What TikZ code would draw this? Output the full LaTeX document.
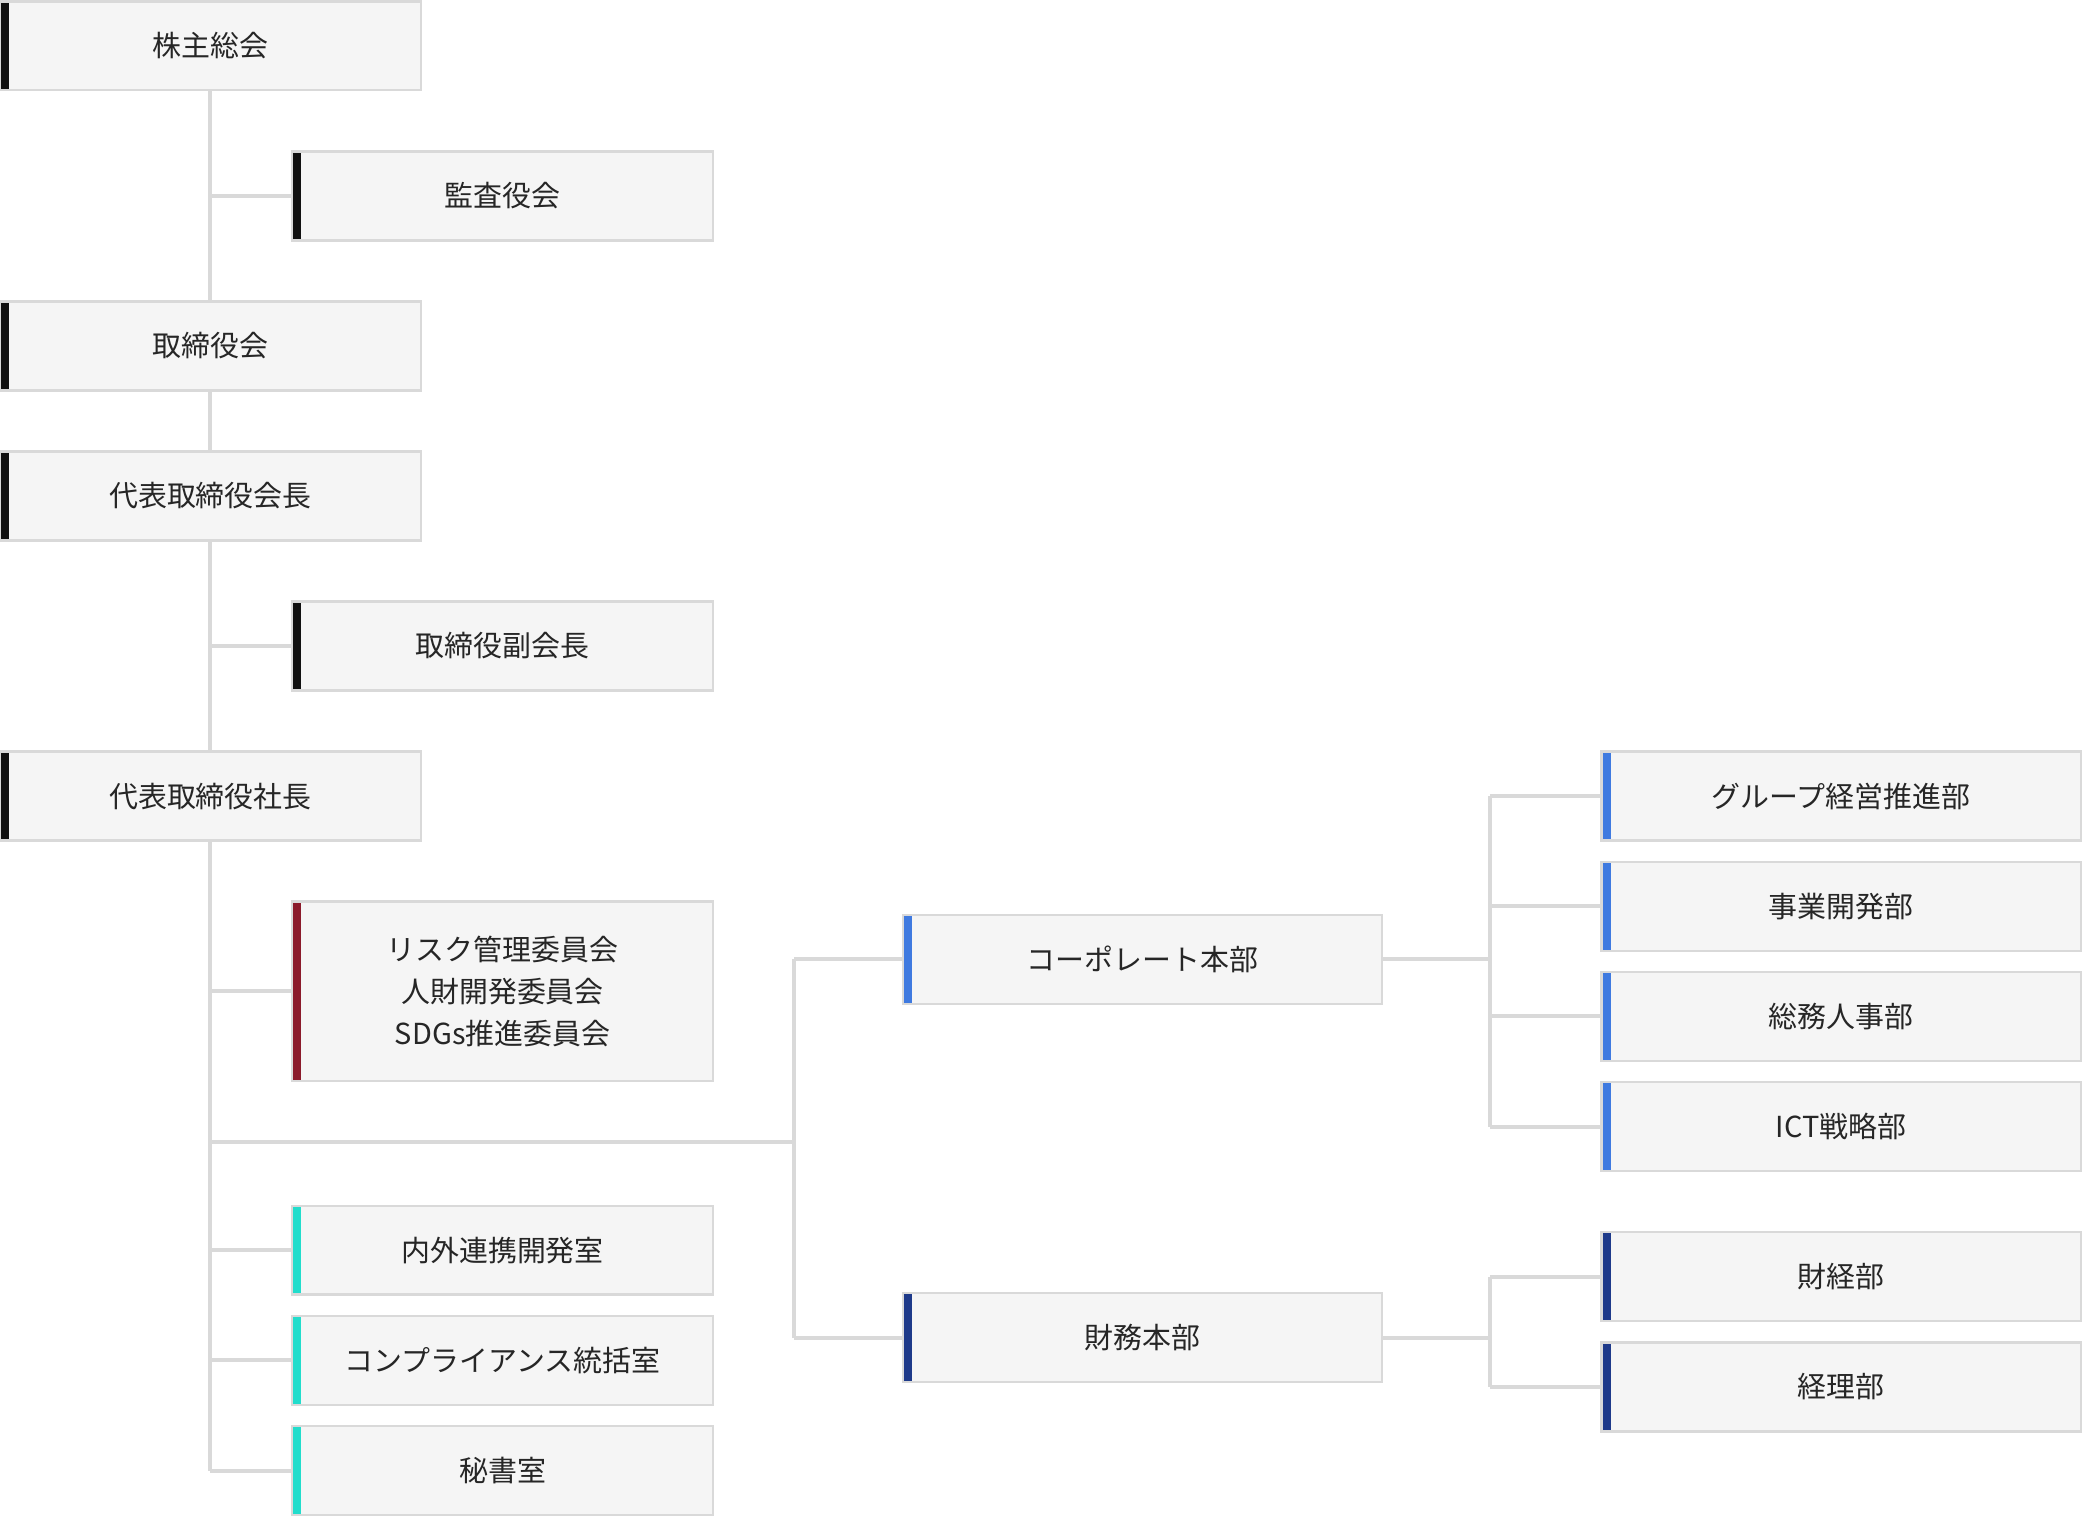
\documentclass[tikz,border=0pt]{standalone}
\usepackage{fontspec}
\setmainfont{Noto Sans CJK JP}
\usetikzlibrary{positioning, backgrounds}
\definecolor{boxfill}{HTML}{F5F5F5}
\definecolor{boxline}{HTML}{D9D9D9}
\definecolor{barblack}{HTML}{111111}
\definecolor{barred}{HTML}{8B1A2B}
\definecolor{barcyan}{HTML}{22DDCC}
\definecolor{barblue}{HTML}{3F7AE0}
\definecolor{barnavy}{HTML}{1E3A8A}
\tikzset{
  box/.style={rectangle, fill=boxfill, draw=boxline, line width=0.5pt,
    minimum width=3.17cm, minimum height=0.67cm, align=center,
    font=\fontsize{6.2}{9}\selectfont, text=black!85,
    path picture={\fill[#1] (path picture bounding box.north west)
      rectangle ([xshift=0.07cm]path picture bounding box.south west);}},
  wide/.style={box=#1, minimum width=3.61cm},
  link/.style={draw=boxline, line width=0.85pt}
}
\begin{document}
\begin{tikzpicture}
  \useasboundingbox (0,0) rectangle (15.68,-11.42);
  % left column
  \node (soukai) [box=barblack] at (1.585,-0.345) {株主総会};
  \node (kansa)  [box=barblack] at (3.785,-1.475) {監査役会};
  \node (torishimari) [box=barblack] at (1.585,-2.605) {取締役会};
  \node (kaicho) [box=barblack] at (1.585,-3.735) {代表取締役会長};
  \node (fuku)   [box=barblack] at (3.785,-4.865) {取締役副会長};
  \node (shacho) [box=barblack] at (1.585,-5.995) {代表取締役社長};
  \node (iinkai) [box=barred, minimum height=1.35cm] at (3.785,-7.465)
    {リスク管理委員会\\人財開発委員会\\SDGs推進委員会};
  \node (renkei) [box=barcyan] at (3.785,-9.415) {内外連携開発室};
  \node (comp)   [box=barcyan] at (3.785,-10.245) {コンプライアンス統括室};
  \node (hisho)  [box=barcyan] at (3.785,-11.075) {秘書室};
  % middle column
  \node (corp)  [wide=barblue] at (8.605,-7.225) {コーポレート本部};
  \node (zaimu) [wide=barnavy] at (8.605,-10.075) {財務本部};
  % right column
  \node (group) [wide=barblue] at (13.865,-5.995) {グループ経営推進部};
  \node (jigyo) [wide=barblue] at (13.865,-6.825) {事業開発部};
  \node (somu)  [wide=barblue] at (13.865,-7.655) {総務人事部};
  \node (ict)   [wide=barblue] at (13.865,-8.485) {ICT戦略部};
  \node (zaikei) [wide=barnavy] at (13.865,-9.615) {財経部};
  \node (keiri)  [wide=barnavy] at (13.865,-10.445) {経理部};
  \coordinate (j1) at (5.98,-8.60);
  \coordinate (j2) at (11.22,0);
  \begin{scope}[on background layer]
    \draw[link] (soukai.south) -- (soukai.south |- hisho.west);
    \foreach \n in {kansa, fuku, iinkai, renkei, comp, hisho}
      \draw[link] (soukai.south |- \n.west) -- (\n.west);
    \draw[link] (soukai.south |- j1) -- (j1);
    \draw[link] (j1 |- corp.west) -- (j1 |- zaimu.west);
    \draw[link] (j1 |- corp.west) -- (corp.west);
    \draw[link] (j1 |- zaimu.west) -- (zaimu.west);
    \draw[link] (corp.east) -- (j2 |- corp.east);
    \draw[link] (zaimu.east) -- (j2 |- zaimu.east);
    \draw[link] (j2 |- group.west) -- (j2 |- ict.west);
    \draw[link] (j2 |- zaikei.west) -- (j2 |- keiri.west);
    \foreach \n in {group, jigyo, somu, ict, zaikei, keiri}
      \draw[link] (j2 |- \n.west) -- (\n.west);
  \end{scope}
\end{tikzpicture}
\end{document}
